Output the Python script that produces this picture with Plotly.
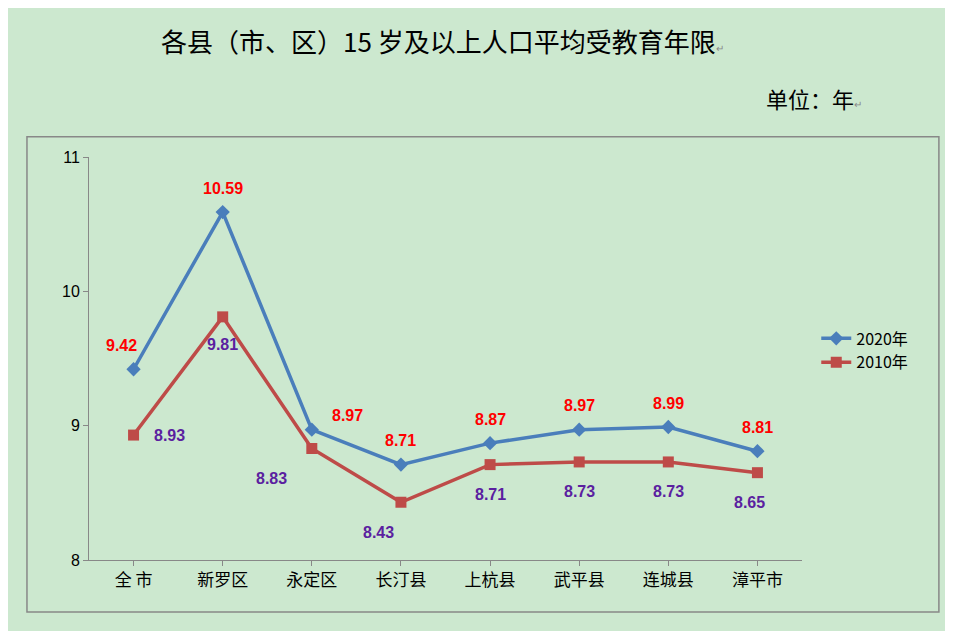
import plotly.graph_objects as go

regions = ["全 市", "新罗区", "永定区", "长汀县", "上杭县", "武平县", "连城县", "漳平市"]
y2020 = [9.42, 10.59, 8.97, 8.71, 8.87, 8.97, 8.99, 8.81]
y2010 = [8.93, 9.81, 8.83, 8.43, 8.71, 8.73, 8.73, 8.65]

# label offsets in px (x, y)
off2020 = [(-12, 24), (0, 24), (36, 14), (0, 24), (0, 24), (0, 24), (0, 24), (0, 24)]
off2010 = [(36, 0), (0, -28), (-40, -30), (-22, -30), (0, -30), (0, -30), (0, -30), (-8, -30)]

blue = "#4A7EBB"
red = "#BE4B48"
bg = "#CCE8CF"

fig = go.Figure()
fig.add_trace(go.Scatter(x=regions, y=y2020, mode="lines+markers", name="2020年",
                         line=dict(color=blue, width=3.5),
                         marker=dict(symbol="diamond", size=11, color=blue)))
fig.add_trace(go.Scatter(x=regions, y=y2010, mode="lines+markers", name="2010年",
                         line=dict(color=red, width=3.5),
                         marker=dict(symbol="square", size=11, color=red)))

for r, v, (dx, dy) in zip(regions, y2020, off2020):
    fig.add_annotation(x=r, y=v, text="<b>%.2f</b>" % v, showarrow=False, xshift=dx, yshift=dy,
                       font=dict(color="#FF0000", size=16, family="Liberation Sans"))
for r, v, (dx, dy) in zip(regions, y2010, off2010):
    fig.add_annotation(x=r, y=v, text="<b>%.2f</b>" % v, showarrow=False, xshift=dx, yshift=dy,
                       font=dict(color="#5B1FA0", size=16, family="Liberation Sans"))

fig.add_annotation(x=(440 - 87) / 713, y=(560 - 40) / 403, xref="paper", yref="paper",
                   xanchor="center", yanchor="middle",
                   text="各县（市、区）15 岁及以上人口平均受教育年限<span style='font-size:10px;color:#888'>↵</span>",
                   showarrow=False, font=dict(size=26, color="black", family="Noto Sans CJK SC"))
fig.add_annotation(x=(862 - 87) / 713, y=(560 - 98) / 403, xref="paper", yref="paper",
                   xanchor="right", yanchor="middle",
                   text="单位：年<span style='font-size:10px;color:#888'>↵</span>",
                   showarrow=False, font=dict(size=22, color="black", family="Noto Sans CJK SC"))

fig.add_shape(type="rect", xref="paper", yref="paper", x0=-0.087, x1=1.192, y0=-0.129, y1=1.05,
              line=dict(color="#888888", width=1.5))

fig.update_layout(
    width=953, height=631,
    paper_bgcolor=bg, plot_bgcolor=bg,
    margin=dict(l=81, r=159, t=149, b=79),
    showlegend=True,
    legend=dict(x=1.02, y=0.52, xanchor="left", yanchor="middle",
                font=dict(size=16, color="black", family="Noto Sans CJK SC"),
                bgcolor="rgba(0,0,0,0)"),
    xaxis=dict(showgrid=False, showline=True, linecolor="#888888", linewidth=1,
               ticks="outside", tickcolor="#888888",
               tickfont=dict(size=17, color="black", family="Noto Sans CJK SC"),
               range=[-0.5, 7.5]),
    yaxis=dict(range=[8, 11], dtick=1, showgrid=False, showline=True, linecolor="#888888",
               ticks="outside", tickcolor="#888888", zeroline=False,
               tickfont=dict(size=16, color="black", family="Liberation Sans")),
)

fig.write_html("out.html")
